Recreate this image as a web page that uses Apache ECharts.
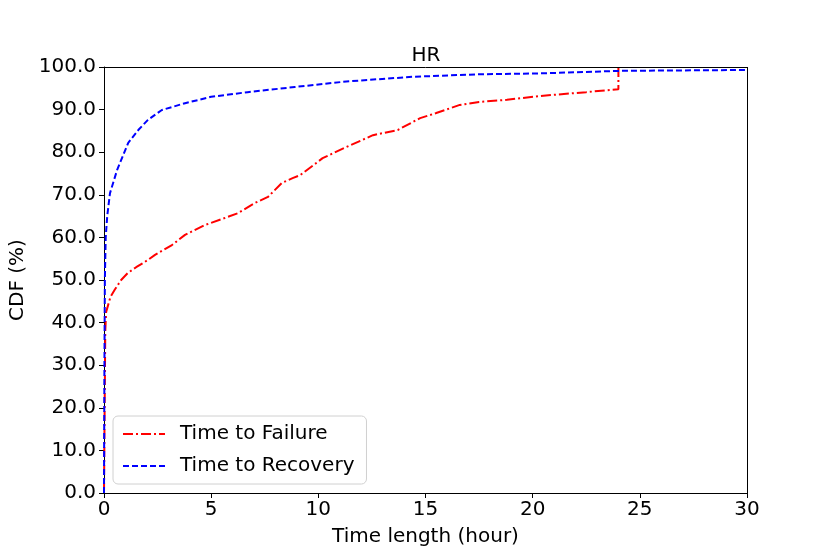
<!DOCTYPE html>
<html><head><meta charset="utf-8">
<script src="https://cdn.jsdelivr.net/npm/echarts@6/dist/echarts.min.js"></script>
<style>html,body{margin:0;padding:0;background:#fff}#c{width:830px;height:554px}</style>
</head><body><div id="c"></div>
<script>
const failureHours = [0, 0.03, 0.06, 0.1, 0.3, 0.5, 0.8, 1.1, 1.5, 2.05, 2.38, 3.17, 3.78, 4.71, 5.5, 6.25, 7.05, 7.65, 8.3, 8.8, 9.15, 10.2, 11.3, 12.55, 13.7, 14.75, 15.5, 16.6, 17.5, 18.8, 20.35, 22.5, 24.0, 24.0];
const failureCdf   = [0, 20, 38, 42.5, 46, 47.7, 50, 51.6, 53, 54.7, 55.9, 58.2, 60.6, 62.9, 64.3, 65.7, 68.1, 69.5, 72.8, 73.9, 74.6, 78.6, 81.2, 84.0, 85.2, 88.0, 89.2, 91.1, 91.8, 92.3, 93.2, 94.1, 94.8, 100];
const recoveryHours = [0, 0.02, 0.04, 0.08, 0.15, 0.28, 0.61, 1.13, 1.6, 2.05, 2.7, 3.78, 5.0, 6.7, 8.9, 11.3, 14.4, 17.5, 20.35, 24.1, 30];
const recoveryCdf   = [0, 30, 50, 60, 65, 70.4, 75.8, 82.2, 85.2, 87.6, 89.9, 91.5, 93.0, 94.1, 95.3, 96.6, 97.7, 98.3, 98.5, 99.1, 99.3];
const xTicks = [0, 5, 10, 15, 20, 25, 30];
const yTicks = [0, 10, 20, 30, 40, 50, 60, 70, 80, 90, 100];

const font = 'DejaVu Sans';
const chart = echarts.init(document.getElementById('c'));
chart.setOption({
  animation: false,
  title: {text: 'HR', left: 421, top: 41, textAlign: 'center',
    textStyle: {fontFamily: font, fontSize: 20, fontWeight: 'normal', color: '#000'}},
  grid: {left: 104, right: 83, top: 67, bottom: 61, outerBoundsMode: 'none', containLabel: false},
  legend: {
    left: 113, top: 416, orient: 'vertical', itemWidth: 42, itemHeight: 14, itemGap: 12,
    padding: [8, 12, 8, 9], borderColor: '#d0d0d0', borderWidth: 1, borderRadius: 5,
    itemStyle: {opacity: 0},
    textStyle: {fontFamily: font, fontSize: 20, color: '#000', padding: [0,0,0,10]},
    data: ['Time to Failure', 'Time to Recovery']
  },
  xAxis: {
    type: 'value', min: 0, max: 30, interval: 5,
    name: 'Time length (hour)', nameLocation: 'middle', nameGap: 34,
    nameTextStyle: {fontFamily: font, fontSize: 20, color: '#000'},
    axisLine: {onZero: false, lineStyle: {color: '#000', width: 1}},
    axisTick: {show: true, inside: false, length: 5, lineStyle: {color: '#000'}},
    axisLabel: {fontFamily: font, fontSize: 20, color: '#000', margin: 7,
      formatter: v => xTicks.includes(v) ? String(v) : ''},
    splitLine: {show: false}
  },
  yAxis: {
    type: 'value', min: 0, max: 100, interval: 10,
    name: 'CDF (%)', nameLocation: 'middle', nameGap: 72, nameRotate: 90,
    nameTextStyle: {fontFamily: font, fontSize: 20, color: '#000'},
    axisLine: {show: true, lineStyle: {color: '#000', width: 1}},
    axisTick: {show: true, inside: false, length: 5, lineStyle: {color: '#000'}},
    axisLabel: {fontFamily: font, fontSize: 20, color: '#000', margin: 8,
      formatter: v => yTicks.includes(v) ? v.toFixed(1) : ''},
    splitLine: {show: false}
  },
  series: [
    {name: 'Time to Failure', type: 'line', symbol: 'none', color: '#ff0000',
      lineStyle: {width: 2, type: [10, 3, 2, 3], color: '#ff0000'},
      data: failureHours.map((h, i) => [h, failureCdf[i]])},
    {name: 'Time to Recovery', type: 'line', symbol: 'none', color: '#0000ff',
      lineStyle: {width: 2, type: [6, 3], color: '#0000ff'},
      data: recoveryHours.map((h, i) => [h, recoveryCdf[i]])},
    {type: 'line', data: [], silent: true,
      markLine: {silent: true, symbol: 'none', label: {show: false},
        lineStyle: {color: '#000', width: 1, type: 'solid'},
        data: [[{coord: [0, 100]}, {coord: [30, 100]}], [{coord: [30, 0]}, {coord: [30, 100]}]]}}
  ]
});
</script></body></html>
